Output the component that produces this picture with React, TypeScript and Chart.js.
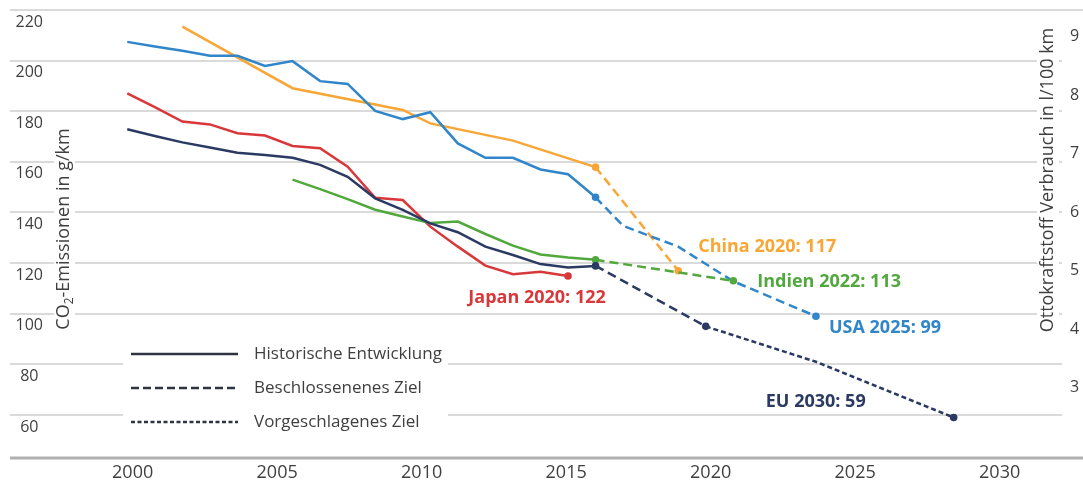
import React, { useEffect, useRef } from "react";
import { Chart, registerables } from "chart.js";

Chart.register(...registerables);

const FONT = '"Open Sans", "Noto Sans", "DejaVu Sans", sans-serif';

// ---- Data (g CO2/km, NEDC) ----
const histYears = [2000, 2001, 2002, 2003, 2004, 2005, 2006, 2007, 2008, 2009, 2010, 2011, 2012, 2013, 2014, 2015, 2016, 2017];
const usaHist = [207.4, 205.6, 203.9, 201.9, 201.9, 197.9, 199.8, 191.9, 190.8, 180.1, 176.9, 179.6, 167.3, 161.6, 161.6, 157.0, 155.1, 146.0];
const euHist = [172.9, 170.2, 167.7, 165.7, 163.6, 162.7, 161.6, 158.8, 154.1, 145.6, 141.0, 135.7, 132.2, 126.5, 123.2, 119.6, 118.3, 118.9];

const japanYears = [2000, 2001, 2002, 2003, 2004, 2005, 2006, 2007, 2008, 2009, 2010, 2011, 2012, 2013, 2014, 2015, 2016];
const japanHist = [187.1, 181.6, 175.9, 174.8, 171.3, 170.4, 166.3, 165.4, 158.1, 145.8, 144.9, 134.4, 126.5, 119.0, 115.6, 116.6, 114.9];

const indiaYears = [2006, 2007, 2008, 2009, 2010, 2011, 2012, 2013, 2014, 2015, 2016, 2017];
const indiaHist = [153.0, 149.2, 145.3, 141.1, 138.4, 135.8, 136.4, 131.5, 126.9, 123.4, 122.2, 121.3];

const chinaYears = [2002, 2006, 2010, 2011, 2014, 2017];
const chinaHist = [213.4, 189.1, 180.5, 175.2, 168.4, 157.9];

// targets
const chinaTargetYears = [2017, 2020];
const chinaTarget = [157.9, 117];
const usaTargetYears = [2017, 2018, 2020, 2022, 2025];
const usaTarget = [146.0, 134.7, 126.5, 112.8, 99];
const indiaTargetYears = [2017, 2022];
const indiaTarget = [121.3, 113];
const euTargetYears = [2017, 2021, 2025, 2030];
const euTarget = [118.9, 95, 81, 59];
const euProposedFrom = 2021;

// ticks / labels
const xTickYears = [2000, 2005, 2010, 2015, 2020, 2025, 2030];
const leftTicks = [60, 80, 100, 120, 140, 160, 180, 200, 220];
const rightTicks = [3, 4, 5, 6, 7, 8, 9];
const leftTitleParts = ["CO", "2", "-Emissionen in g/km"];
const rightTitle = "Ottokraftstoff Verbrauch in l/100 km";
const legendLabels = ["Historische Entwicklung", "Beschlossenenes Ziel", "Vorgeschlagenes Ziel"];
const annotationTexts = ["Japan 2020: 122", "China 2020: 117", "Indien 2022: 113", "USA 2025: 99", "EU 2030: 59"];

const C = {
  usa: "#3086c8",
  china: "#f8a636",
  japan: "#d8383a",
  india: "#51a83d",
  eu: "#2b3a62",
  grid: "#dadada",
  axis: "#b0b0b0",
  text: "#3f3f3f",
};

const DASH_ADOPTED = [9, 5];
const DASH_PROPOSED = [5, 3];

const pts = (xs: number[], ys: number[]) => xs.map((x, i) => ({ x, y: ys[i] }));

const decorPlugin = {
  id: "decor",
  beforeDraw(chart: any) {
    const { ctx, chartArea, scales } = chart;
    const y = scales.y;
    ctx.save();
    ctx.fillStyle = "#fff";
    ctx.fillRect(0, 0, chart.width, chart.height);
    ctx.strokeStyle = C.grid;
    ctx.lineWidth = 2;
    leftTicks.forEach((v, i) => {
      const py = Math.round(y.getPixelForValue(v));
      const xEnd = i === leftTicks.length - 1 ? chart.width : chart.width - 21;
      ctx.beginPath();
      ctx.moveTo(10, py);
      ctx.lineTo(xEnd, py);
      ctx.stroke();
    });
    ctx.strokeStyle = C.axis;
    ctx.lineWidth = 3;
    ctx.beginPath();
    ctx.moveTo(10, chartArea.bottom);
    ctx.lineTo(chart.width, chartArea.bottom);
    ctx.stroke();
    ctx.restore();
  },
  afterDraw(chart: any) {
    const { ctx, scales, chartArea } = chart;
    const xs = scales.x;
    const ys = scales.y;
    ctx.save();

    // left axis title (rotated, with subscript)
    const mainFont = `18px ${FONT}`;
    const subFont = `12px ${FONT}`;
    ctx.font = mainFont;
    const w1 = ctx.measureText(leftTitleParts[0]).width;
    const w3 = ctx.measureText(leftTitleParts[2]).width;
    ctx.font = subFont;
    const w2 = ctx.measureText(leftTitleParts[1]).width;
    const wt = w1 + w2 + w3;
    const lcx = 64;
    const lcy = (chartArea.top + chartArea.bottom) / 2 - 5;
    ctx.fillStyle = "#fff";
    ctx.fillRect(lcx - 10, lcy - wt / 2 - 3, 21, wt + 6);
    ctx.translate(lcx, lcy);
    ctx.rotate(-Math.PI / 2);
    ctx.fillStyle = C.text;
    ctx.textBaseline = "middle";
    ctx.textAlign = "left";
    ctx.font = mainFont;
    ctx.fillText(leftTitleParts[0], -wt / 2, 0);
    ctx.font = subFont;
    ctx.fillText(leftTitleParts[1], -wt / 2 + w1, 6);
    ctx.font = mainFont;
    ctx.fillText(leftTitleParts[2], -wt / 2 + w1 + w2, 0);
    ctx.setTransform(1, 0, 0, 1, 0, 0);

    // right axis title
    ctx.font = `18px ${FONT}`;
    const rw = ctx.measureText(rightTitle).width;
    const rcx = 1048;
    const rcy = 180;
    ctx.fillStyle = "#fff";
    ctx.fillRect(rcx - 11, rcy - rw / 2 - 3, 22, rw + 6);
    ctx.translate(rcx, rcy);
    ctx.rotate(-Math.PI / 2);
    ctx.fillStyle = C.text;
    ctx.textAlign = "center";
    ctx.textBaseline = "middle";
    ctx.fillText(rightTitle, 0, 0);
    ctx.setTransform(1, 0, 0, 1, 0, 0);

    // legend
    ctx.fillStyle = "#fff";
    ctx.fillRect(123, 338, 325, 102);
    const dashes = [[], [8, 4], [4, 2.5]];
    legendLabels.forEach((t, i) => {
      const yy = 354 + i * 34;
      ctx.setLineDash(dashes[i]);
      ctx.strokeStyle = "#2f3443";
      ctx.lineWidth = 2.5;
      ctx.beginPath();
      ctx.moveTo(131, yy);
      ctx.lineTo(238, yy);
      ctx.stroke();
      ctx.setLineDash([]);
      ctx.fillStyle = C.text;
      ctx.font = `17px ${FONT}`;
      ctx.textAlign = "left";
      ctx.textBaseline = "middle";
      ctx.fillText(t, 254, yy);
    });

    // end-point annotations
    const ends = [
      { x: japanYears[japanYears.length - 1], y: japanHist[japanHist.length - 1], color: C.japan, dx: -31, dy: 22, align: "center" },
      { x: chinaTargetYears[chinaTargetYears.length - 1], y: chinaTarget[chinaTarget.length - 1], color: C.china, dx: 20, dy: -24, align: "left" },
      { x: indiaTargetYears[indiaTargetYears.length - 1], y: indiaTarget[indiaTarget.length - 1], color: C.india, dx: 24, dy: 1, align: "left" },
      { x: usaTargetYears[usaTargetYears.length - 1], y: usaTarget[usaTarget.length - 1], color: C.usa, dx: 13, dy: 12, align: "left" },
      { x: euTargetYears[euTargetYears.length - 1], y: euTarget[euTarget.length - 1], color: C.eu, dx: -88, dy: -16, align: "right" },
    ];
    ctx.font = `bold 18px ${FONT}`;
    ctx.textBaseline = "middle";
    ends.forEach((e, i) => {
      const px = xs.getPixelForValue(e.x);
      const py = ys.getPixelForValue(e.y);
      ctx.fillStyle = e.color;
      ctx.textAlign = e.align as CanvasTextAlign;
      ctx.fillText(annotationTexts[i], px + e.dx, py + e.dy);
    });
    ctx.restore();
  },
};

const endMarkers = (n: number, extra: number[] = []) => (c: any) =>
  c.dataIndex === 0 || c.dataIndex === n - 1 || extra.includes(c.dataIndex) ? 3.8 : 0;

export default function App() {
  const ref = useRef<HTMLCanvasElement | null>(null);

  useEffect(() => {
    if (!ref.current) return;
    const common = { xAxisID: "x", yAxisID: "y", borderWidth: 2.5, tension: 0, fill: false, pointBorderWidth: 0 };
    const hist = (label: string, xs: number[], ys: number[], color: string, marker = false) => ({
      ...common,
      label,
      data: pts(xs, ys),
      borderColor: color,
      backgroundColor: color,
      pointBackgroundColor: color,
      pointRadius: marker ? (c: any) => (c.dataIndex === xs.length - 1 ? 3.8 : 0) : 0,
    });
    const target = (label: string, xs: number[], ys: number[], color: string, extra: number[] = []) => ({
      ...common,
      label,
      data: pts(xs, ys),
      borderColor: color,
      backgroundColor: color,
      pointBackgroundColor: color,
      borderDash: DASH_ADOPTED,
      pointRadius: endMarkers(xs.length, extra),
    });

    const euT: any = target("EU Ziel", euTargetYears, euTarget, C.eu, [1]);
    euT.segment = {
      borderDash: (s: any) => (s.p0.parsed.x >= euProposedFrom ? DASH_PROPOSED : DASH_ADOPTED),
    };

    const noPad = (s: any) => {
      s.paddingTop = 0;
      s.paddingBottom = 0;
    };

    const chart = new Chart(ref.current, {
      type: "line",
      data: {
        datasets: [
          hist("EU", histYears, euHist, C.eu),
          hist("Indien", indiaYears, indiaHist, C.india),
          hist("Japan", japanYears, japanHist, C.japan, true),
          hist("USA", histYears, usaHist, C.usa),
          hist("China", chinaYears, chinaHist, C.china),
          euT,
          target("Indien Ziel", indiaTargetYears, indiaTarget, C.india),
          target("USA Ziel", usaTargetYears, usaTarget, C.usa),
          target("China Ziel", chinaTargetYears, chinaTarget, C.china),
        ] as any,
      },
      options: {
        responsive: false,
        animation: false,
        events: [],
        layout: { padding: { top: 10, left: 0, right: 0, bottom: 0 } },
        plugins: { legend: { display: false }, tooltip: { enabled: false } },
        scales: {
          x: { type: "linear", display: false, min: 1999.01, max: 2032.77 },
          xl: {
            type: "linear",
            axis: "x",
            position: "bottom",
            min: 1998.87,
            max: 2031.05,
            afterBuildTicks: (s: any) => {
              s.ticks = xTickYears.map((v) => ({ value: v }));
            },
            afterFit: (s: any) => {
              s.height = 28;
              s.paddingLeft = 0;
              s.paddingRight = 0;
            },
            grid: { display: false, drawTicks: false },
            border: { display: false },
            ticks: {
              padding: 4,
              autoSkip: false,
              maxRotation: 0,
              color: C.text,
              font: { family: FONT, size: 18 },
              callback: (v: any) => String(v),
            },
          } as any,
          y: {
            type: "linear",
            position: "left",
            min: 42.99,
            max: 220,
            afterBuildTicks: (s: any) => {
              s.ticks = leftTicks.map((v) => ({ value: v }));
            },
            afterFit: (s: any) => {
              s.width = 100;
              noPad(s);
            },
            grid: { display: false, drawTicks: false },
            border: { display: false },
            ticks: {
              crossAlign: "center",
              padding: 57,
              labelOffset: 12,
              color: C.text,
              font: { family: FONT, size: 16 },
              callback: (v: any) => String(v),
            },
          },
          y1: {
            type: "linear",
            position: "right",
            min: 1.798,
            max: 9.456,
            afterBuildTicks: (s: any) => {
              s.ticks = rightTicks.map((v) => ({ value: v }));
            },
            afterFit: (s: any) => {
              s.width = 53;
              noPad(s);
            },
            grid: { display: false, drawTicks: false },
            border: { display: false },
            ticks: {
              padding: 40,
              color: C.text,
              font: { family: FONT, size: 16 },
              callback: (v: any) => String(v),
            },
          },
        },
      } as any,
      plugins: [decorPlugin],
    });
    return () => chart.destroy();
  }, []);

  return (
    <div style={{ position: "absolute", left: 0, top: 0, width: 1083, height: 486, background: "#fff" }}>
      <canvas ref={ref} width={1083} height={486} style={{ display: "block" }} />
    </div>
  );
}
